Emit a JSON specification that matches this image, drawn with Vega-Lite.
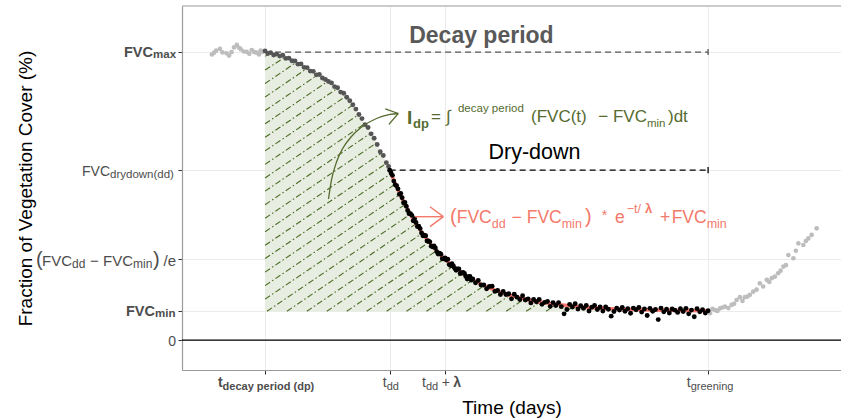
{
"$schema": "https://vega.github.io/schema/vega-lite/v6.json",
"width": 659, "height": 364,
"autosize": {"type": "none"},
"padding": {"left": 182, "top": 6, "right": 0, "bottom": 49},
"background": "white",
"config": {"font": "Liberation Sans", "view": {"stroke": null}},
"datasets": {
"curve": [{"t":30,"v":100},{"t":34,"v":99.2},{"t":38,"v":97.9},{"t":42,"v":96.0},{"t":46,"v":93.9},{"t":50,"v":91.5},{"t":54,"v":89.0},{"t":58,"v":85.8},{"t":62,"v":81.0},{"t":65,"v":76.6},{"t":68,"v":72.4},{"t":71,"v":66.9},{"t":73,"v":63.2},{"t":75,"v":59.0},{"t":77.5,"v":53.24},{"t":80,"v":48.16},{"t":82.5,"v":43.68},{"t":85,"v":39.72},{"t":87.5,"v":36.23},{"t":90,"v":33.15},{"t":92.5,"v":30.42},{"t":95,"v":28.03},{"t":100,"v":24.04},{"t":105,"v":20.93},{"t":110,"v":18.51},{"t":115,"v":16.63},{"t":120,"v":15.16},{"t":125,"v":14.02},{"t":130,"v":13.13},{"t":135,"v":12.44},{"t":140,"v":11.90},{"t":145,"v":11.48},{"t":150,"v":11.15},{"t":160,"v":10.70},{"t":170,"v":10.42},{"t":180,"v":10.26},{"t":190,"v":10.16}],
"fit": [{"t":75,"v":59.0},{"t":77.5,"v":53.24},{"t":80,"v":48.16},{"t":82.5,"v":43.68},{"t":85,"v":39.72},{"t":87.5,"v":36.23},{"t":90,"v":33.15},{"t":92.5,"v":30.42},{"t":95,"v":28.03},{"t":100,"v":24.04},{"t":105,"v":20.93},{"t":110,"v":18.51},{"t":115,"v":16.63},{"t":120,"v":15.16},{"t":125,"v":14.02},{"t":130,"v":13.13},{"t":135,"v":12.44},{"t":140,"v":11.90},{"t":145,"v":11.48},{"t":150,"v":11.15},{"t":160,"v":10.70},{"t":170,"v":10.42},{"t":180,"v":10.26},{"t":190,"v":10.16}],
"hatch": [
{"t":30,"v":98.5,"t2":31.76,"v2":99.64},{"t":30,"v":93.8,"t2":36.87,"v2":98.0},{"t":30,"v":89.1,"t2":41.2,"v2":96.4},{"t":30,"v":84.4,"t2":45.23,"v2":94.35},{"t":30,"v":79.7,"t2":49.04,"v2":92.1},{"t":30,"v":75.1,"t2":52.67,"v2":89.84},{"t":30,"v":70.4,"t2":56.07,"v2":87.35},{"t":30,"v":65.7,"t2":59.03,"v2":84.57},{"t":30,"v":61.0,"t2":61.57,"v2":81.52},{"t":30,"v":56.3,"t2":63.84,"v2":78.3},{"t":30,"v":51.7,"t2":66.05,"v2":75.13},{"t":30,"v":47.0,"t2":68.28,"v2":71.9},{"t":30,"v":42.3,"t2":70.17,"v2":68.41},{"t":30,"v":37.6,"t2":72.06,"v2":64.94},{"t":30,"v":32.9,"t2":73.85,"v2":61.4},{"t":30,"v":28.3,"t2":75.5,"v2":57.8},{"t":30,"v":23.6,"t2":77.1,"v2":54.2},{"t":30,"v":18.9,"t2":78.8,"v2":50.6},{"t":30,"v":14.2,"t2":80.6,"v2":47.1},
{"t":30.7,"v":10,"t2":82.5,"v2":43.7},{"t":37.9,"v":10,"t2":84.6,"v2":40.4},{"t":45.1,"v":10,"t2":86.8,"v2":37.1},{"t":52.3,"v":10,"t2":89.25,"v2":34.0},{"t":59.5,"v":10,"t2":91.9,"v2":31.0},{"t":66.7,"v":10,"t2":94.75,"v2":28.2},{"t":73.9,"v":10,"t2":97.9,"v2":25.6},{"t":81.1,"v":10,"t2":101.3,"v2":23.2},{"t":88.3,"v":10,"t2":105.05,"v2":20.9},{"t":95.5,"v":10,"t2":109.15,"v2":18.9},{"t":102.7,"v":10,"t2":113.65,"v2":17.1},{"t":109.9,"v":10,"t2":118.5,"v2":15.6},{"t":117.1,"v":10,"t2":123.7,"v2":14.3},{"t":124.3,"v":10,"t2":129.3,"v2":13.2},{"t":131.5,"v":10,"t2":135.2,"v2":12.4},{"t":138.7,"v":10,"t2":141.4,"v2":11.7}],
"frame": [{"t":0,"v":116,"t2":238,"v2":116}],
"zero": [{"t":0,"v":0,"t2":238,"v2":0}],
"grayDash": [{"t":30,"v":100,"t2":190,"v2":100}],
"grayBar": [{"t":190,"v":98.95,"t2":190,"v2":101.05}],
"blackDash": [{"t":75,"v":59,"t2":190,"v2":59}],
"blackBar": [{"t":190,"v":57.95,"t2":190,"v2":60.05}],
"gray": [{"t":10.8,"v":99.2},{"t":11.6,"v":99.8},{"t":12.3,"v":100.5},{"t":13.7,"v":101.1},{"t":14.6,"v":99.9},{"t":16.1,"v":99.6},{"t":17.0,"v":98.8},{"t":17.9,"v":100.0},{"t":18.8,"v":101.6},{"t":19.8,"v":102.5},{"t":20.6,"v":101.5},{"t":21.2,"v":101.0},{"t":22.3,"v":100.2},{"t":23.4,"v":100.1},{"t":24.3,"v":99.4},{"t":25.2,"v":100.7},{"t":26.1,"v":100.0},{"t":27.0,"v":99.8},{"t":27.8,"v":99.2},{"t":28.4,"v":100.5},{"t":29.2,"v":100.1},
{"t":190.7,"v":9.3},{"t":191.6,"v":10.8},{"t":192.5,"v":10.4},{"t":193.4,"v":10.1},{"t":194.3,"v":11.0},{"t":195.2,"v":11.3},{"t":196.1,"v":11.6},{"t":197.3,"v":11.1},{"t":198.5,"v":12.2},{"t":199.4,"v":12.6},{"t":200.3,"v":13.9},{"t":201.5,"v":14.9},{"t":202.4,"v":13.6},{"t":203.3,"v":14.9},{"t":204.2,"v":15.1},{"t":205.1,"v":15.7},{"t":206.3,"v":16.8},{"t":207.5,"v":17.5},{"t":208.7,"v":19.7},{"t":209.9,"v":18.6},{"t":211.2,"v":20.9},{"t":212.1,"v":20.2},{"t":213.0,"v":21.5},{"t":214.1,"v":22.0},{"t":215.3,"v":23.2},{"t":216.2,"v":24.1},{"t":217.2,"v":25.5},{"t":218.1,"v":26.0},{"t":219.0,"v":29.5},{"t":220.8,"v":28.4},{"t":221.7,"v":31.0},{"t":222.6,"v":33.6},{"t":224.4,"v":33.0},{"t":225.3,"v":34.4},{"t":226.2,"v":35.3},{"t":227.4,"v":36.5},{"t":229.2,"v":38.8}],
"decay": [{"t":30.0,"v":100.4},{"t":31.0,"v":99.5},{"t":32.0,"v":99.8},{"t":33.1,"v":99.0},{"t":34.2,"v":99.3},{"t":35.3,"v":98.6},{"t":36.4,"v":98.9},{"t":37.5,"v":97.8},{"t":38.6,"v":97.9},{"t":39.7,"v":97.0},{"t":40.8,"v":96.9},{"t":41.9,"v":95.8},{"t":43.0,"v":95.9},{"t":44.1,"v":94.7},{"t":45.2,"v":94.6},{"t":46.3,"v":93.4},{"t":47.4,"v":93.3},{"t":48.5,"v":92.1},{"t":49.6,"v":92.2},{"t":50.7,"v":91.0},{"t":51.8,"v":90.5},{"t":52.9,"v":89.8},{"t":54.0,"v":89.3},{"t":55.1,"v":88.0},{"t":56.2,"v":87.6},{"t":57.3,"v":86.1},{"t":58.4,"v":85.7},{"t":59.5,"v":84.3},{"t":60.6,"v":83.1},{"t":61.7,"v":81.7},{"t":62.8,"v":80.2},{"t":63.9,"v":78.3},{"t":65.0,"v":76.9},{"t":66.1,"v":74.8},{"t":67.2,"v":73.8},{"t":68.3,"v":71.6},{"t":69.4,"v":70.1},{"t":70.5,"v":67.9},{"t":71.6,"v":65.4},{"t":72.7,"v":64.1},{"t":73.8,"v":61.6},{"t":74.6,"v":60.3}],
"black": [{"t":75,"v":59.0},{"t":75.5,"v":58.0},{"t":76,"v":57.2},{"t":76.5,"v":55.2},{"t":77,"v":53.9},{"t":77.5,"v":53.6},{"t":78,"v":52.5},{"t":78.5,"v":50.6},{"t":79,"v":50.9},{"t":79.5,"v":49.4},{"t":80,"v":47.7},{"t":80.5,"v":47.8},{"t":81,"v":46.5},{"t":81.5,"v":45.0},{"t":82,"v":43.9},{"t":82.5,"v":43.9},{"t":83,"v":43.3},{"t":83.5,"v":41.4},{"t":84,"v":42.1},{"t":84.5,"v":40.8},{"t":85,"v":39.4},{"t":85.5,"v":39.5},{"t":86,"v":38.7},{"t":86.5,"v":37.2},{"t":87,"v":36.2},{"t":87.5,"v":36.4},{"t":88,"v":36.2},{"t":88.5,"v":34.4},{"t":89,"v":34.4},{"t":89.5,"v":34.1},{"t":90,"v":32.6},{"t":90.5,"v":32.4},{"t":91,"v":32.7},{"t":91.5,"v":32.0},{"t":92,"v":30.7},{"t":92.5,"v":29.9},{"t":93,"v":30.2},{"t":93.5,"v":29.8},{"t":94,"v":28.2},{"t":94.5,"v":28.2},{"t":95,"v":28.5},{"t":95.5,"v":27.8},{"t":96,"v":28.1},{"t":96.5,"v":26.2},{"t":97,"v":25.9},{"t":97.5,"v":26.5},{"t":98,"v":25.7},{"t":98.5,"v":24.9},{"t":99,"v":24.2},{"t":99.5,"v":24.7},{"t":100,"v":24.7},{"t":100.5,"v":23.1},{"t":101,"v":23.3},{"t":101.5,"v":23.5},{"t":102,"v":23.1},{"t":102.5,"v":22.1},{"t":103,"v":21.2},{"t":103.5,"v":22.0},{"t":104,"v":22.1},{"t":104.5,"v":20.8},{"t":105,"v":21.2},{"t":106,"v":19.9},{"t":107,"v":20.7},{"t":108,"v":19.1},{"t":109,"v":19.1},{"t":110,"v":17.8},{"t":111,"v":18.6},{"t":112,"v":18.7},{"t":113,"v":16.9},{"t":114,"v":17.2},{"t":115,"v":15.8},{"t":116,"v":16.9},{"t":117,"v":15.8},{"t":118,"v":16.1},{"t":119,"v":14.3},{"t":120,"v":15.9},{"t":121,"v":14.9},{"t":122,"v":14.1},{"t":123,"v":15.4},{"t":124,"v":13.9},{"t":125,"v":14.3},{"t":126,"v":12.9},{"t":127,"v":14.1},{"t":128,"v":13.3},{"t":129,"v":14.1},{"t":130,"v":12.4},{"t":131,"v":13.1},{"t":132,"v":13.4},{"t":133,"v":11.7},{"t":134,"v":13.0},{"t":135,"v":12.0},{"t":136,"v":13.0},{"t":137,"v":11.6},{"t":138,"v":9.1},{"t":139,"v":10.6},{"t":140,"v":12.4},{"t":141,"v":11.5},{"t":142,"v":12.6},{"t":143,"v":10.8},{"t":144,"v":11.9},{"t":145,"v":11.0},{"t":146,"v":12.0},{"t":147,"v":10.1},{"t":148,"v":11.4},{"t":149,"v":12.0},{"t":150,"v":10.6},{"t":151,"v":11.5},{"t":152,"v":10.1},{"t":153,"v":11.5},{"t":154,"v":10.7},{"t":155,"v":8.3},{"t":156,"v":9.9},{"t":157,"v":11.1},{"t":158,"v":10.4},{"t":159,"v":11.3},{"t":160,"v":10.0},{"t":161,"v":10.9},{"t":162,"v":9.3},{"t":163,"v":11.1},{"t":164,"v":10.5},{"t":165,"v":11.3},{"t":166,"v":9.7},{"t":167,"v":10.8},{"t":168,"v":8.5},{"t":169,"v":11.0},{"t":170,"v":10.0},{"t":171,"v":10.6},{"t":172,"v":7.1},{"t":173,"v":11.1},{"t":174,"v":9.8},{"t":175,"v":10.7},{"t":176,"v":9.4},{"t":177,"v":10.8},{"t":178,"v":10.4},{"t":179,"v":9.6},{"t":180,"v":10.9},{"t":181,"v":9.9},{"t":182,"v":11.0},{"t":183,"v":9.1},{"t":184,"v":10.4},{"t":185,"v":8.1},{"t":186,"v":10.9},{"t":187,"v":9.8},{"t":188,"v":10.5},{"t":189,"v":9.4},{"t":190,"v":10.2}],
"garrow": [{"t":52.91,"v":48.99},{"t":53.99,"v":55.58},{"t":55.80,"v":61.83},{"t":58.14,"v":66.69},{"t":61.03,"v":70.51},{"t":64.64,"v":73.81},{"t":70.24,"v":76.94},{"t":75.12,"v":78.33},{"t":78.11,"v":78.67}],
"gheads": [{"t":73.42,"v":80.31,"t2":78.11,"v2":78.67},{"t":74.72,"v":74.89,"t2":78.11,"v2":78.67}],
"rarrow": [{"t":84.15,"v":42.84,"t2":94.37,"v2":42.84},{"t":89.56,"v":46.31,"t2":94.37,"v2":42.84},{"t":89.56,"v":39.37,"t2":94.37,"v2":42.84}],
"ylabBoldMain": [{"s":"FVC","t":-10.47,"v":100},{"s":"FVC","t":-9.75,"v":10}],
"ylabBoldSub": [{"s":"max","t":-10.47,"v":100},{"s":"min","t":-9.75,"v":10}],
"ylabRegMain": [{"s":"FVC","t":-26.0,"v":59},{"s":"0","t":-2.17,"v":0}],
"ylabRegSub": [{"s":"drydown(dd)","t":-26.0,"v":59}],
"ylabEMain": [{"s":"FVC","t":-39.72,"v":28.03},{"s":"− FVC","t":-17.70,"v":28.03},{"s":"/e","t":-2.17,"v":28.03}],
"ylabESub": [{"s":"dd","t":-39.72,"v":28.03},{"s":"min","t":-17.70,"v":28.03}],
"ylabEParen": [{"s":"(","t":-52.73,"v":28.03},{"s":")","t":-10.47,"v":28.03}],
"xlabBoldMain": [{"s":"t","t":14.66,"v":-10.4}],
"xlabBoldSub": [{"s":"decay period (dp)","t":14.66,"v":-10.4}],
"xlabRegMain": [{"s":"t","t":73.93,"v":-10.4},{"s":"t","t":88.12,"v":-10.4},{"s":"t","t":183.71,"v":-10.4}],
"xlabRegSub": [{"s":"dd","t":73.93,"v":-10.4},{"s":"dd","t":88.12,"v":-10.4},{"s":"greening","t":183.71,"v":-10.4}],
"xlabPlus": [{"s":"+","t":93.79,"v":-10.4}],
"xlabLambda": [{"s":"λ","t":97.98,"v":-10.4}],
"gBig": [{"s":"I","t":81.26,"v":75.03}],
"gBigSub": [{"s":"dp","t":83.42,"v":73.64}],
"gMainL": [{"s":"=","t":89.92,"v":75.72},{"s":"∫","t":95.34,"v":75.72},{"s":"(FVC(t)","t":126.04,"v":75.72},{"s":")dt","t":175.51,"v":75.72}],
"gMainR": [{"s":"− FVC","t":167.93,"v":75.72}],
"gSmall": [{"s":"decay period","t":99.67,"v":79.19},{"s":"min","t":167.93,"v":73.99}],
"rParen": [{"s":"(","t":96.79,"v":40.55},{"s":")","t":145.54,"v":40.55}],
"rMainL": [{"s":"FVC","t":99.21,"v":40.55},{"s":"e","t":156.37,"v":40.55},{"s":"+","t":172.63,"v":40.55},{"s":"FVC","t":176.85,"v":40.55}],
"rMainR": [{"s":"− FVC","t":137.13,"v":40.55}],
"rStar": [{"s":"*","t":151.57,"v":41.69}],
"rSmall": [{"s":"dd","t":111.84,"v":38.92},{"s":"min","t":137.13,"v":38.92},{"s":"min","t":189.49,"v":38.92},{"s":"−t/","t":160.60,"v":44.13}],
"rLambda": [{"s":"λ","t":167.21,"v":44.13}],
"decayTitle": [{"s":"Decay period","t":108.13,"v":103.26}],
"ddTitle": [{"s":"Dry-down","t":127.3,"v":62.88}]
},
"encoding": {
"x": {"field":"t","type":"quantitative","scale":{"domain":[0,238],"nice":false,"zero":false},
 "axis":{"values":[30,75,95,190],"labels":false,"ticks":true,"tickSize":4,"tickColor":"#333333","tickWidth":1,"grid":true,"gridColor":"#ebebeb","gridWidth":1,"domain":true,"domainColor":"#9a9a9a","domainWidth":1.2,"title":"Time (days)","titleFontSize":19,"titleFontWeight":"normal","titleColor":"#000000","titleY":43,"titleBaseline":"alphabetic"}},
"y": {"field":"v","type":"quantitative","scale":{"domain":[-10.4,116],"nice":false,"zero":false},
 "axis":{"values":[0,10,28.03,59,100],"labels":false,"ticks":true,"tickSize":4,"tickColor":"#333333","tickWidth":1,"grid":true,"gridColor":"#ebebeb","gridWidth":1,"domain":true,"domainColor":"#9a9a9a","domainWidth":1.2,"title":"Fraction of Vegetation Cover (%)","titleFontSize":19,"titleFontWeight":"normal","titleColor":"#000000","titleX":-151,"titleY":182,"titleAngle":270,"titleAlign":"center","titleBaseline":"alphabetic"}}
},
"layer": [
{"data":{"name":"curve"},"mark":{"type":"area","color":"#e7ede0","interpolate":"monotone"},"encoding":{"y2":{"datum":10}}},
{"data":{"name":"hatch"},"mark":{"type":"rule","color":"#4b6b24","strokeWidth":1.1,"strokeDash":[6,2.5,1.5,2.5]},"encoding":{"x2":{"field":"t2"},"y2":{"field":"v2"}}},
{"data":{"name":"frame"},"mark":{"type":"rule","color":"#9a9a9a","strokeWidth":1.2},"encoding":{"x2":{"field":"t2"},"y2":{"field":"v2"}}},
{"data":{"name":"zero"},"mark":{"type":"rule","color":"#000000","strokeWidth":1.2},"encoding":{"x2":{"field":"t2"},"y2":{"field":"v2"}}},
{"data":{"name":"grayDash"},"mark":{"type":"rule","color":"#555555","strokeWidth":1.3,"strokeDash":[6,4]},"encoding":{"x2":{"field":"t2"},"y2":{"field":"v2"}}},
{"data":{"name":"grayBar"},"mark":{"type":"rule","color":"#555555","strokeWidth":1.3},"encoding":{"x2":{"field":"t2"},"y2":{"field":"v2"}}},
{"data":{"name":"blackDash"},"mark":{"type":"rule","color":"#000000","strokeWidth":1.3,"strokeDash":[6,4]},"encoding":{"x2":{"field":"t2"},"y2":{"field":"v2"}}},
{"data":{"name":"blackBar"},"mark":{"type":"rule","color":"#000000","strokeWidth":1.3},"encoding":{"x2":{"field":"t2"},"y2":{"field":"v2"}}},
{"data":{"name":"gray"},"mark":{"type":"circle","color":"#bdbdbd","size":22,"opacity":1},"encoding":{}},
{"data":{"name":"decay"},"mark":{"type":"circle","color":"#555555","size":24,"opacity":1},"encoding":{}},
{"data":{"name":"fit"},"mark":{"type":"line","color":"#f8766d","strokeWidth":3.5,"interpolate":"monotone"},"encoding":{}},
{"data":{"name":"black"},"mark":{"type":"circle","color":"#000000","size":24,"opacity":1},"encoding":{}},
{"data":{"name":"garrow"},"mark":{"type":"line","color":"#556b2f","strokeWidth":1.3,"interpolate":"monotone"},"encoding":{}},
{"data":{"name":"gheads"},"mark":{"type":"rule","color":"#556b2f","strokeWidth":1.3},"encoding":{"x2":{"field":"t2"},"y2":{"field":"v2"}}},
{"data":{"name":"rarrow"},"mark":{"type":"rule","color":"#f4796b","strokeWidth":1.4},"encoding":{"x2":{"field":"t2"},"y2":{"field":"v2"}}},
{"data":{"name":"ylabBoldMain"},"mark":{"type":"text","align":"right","baseline":"alphabetic","dy":4.5,"fontSize":14.5,"fontWeight":"bold","color":"#4d4d4d"},"encoding":{"text":{"field":"s"}}},
{"data":{"name":"ylabBoldSub"},"mark":{"type":"text","align":"left","baseline":"alphabetic","dy":6,"fontSize":11.5,"fontWeight":"bold","color":"#4d4d4d"},"encoding":{"text":{"field":"s"}}},
{"data":{"name":"ylabRegMain"},"mark":{"type":"text","align":"right","baseline":"alphabetic","dy":5.5,"fontSize":14,"color":"#4d4d4d"},"encoding":{"text":{"field":"s"}}},
{"data":{"name":"ylabRegSub"},"mark":{"type":"text","align":"left","baseline":"alphabetic","dy":7.5,"fontSize":11.5,"color":"#4d4d4d"},"encoding":{"text":{"field":"s"}}},
{"data":{"name":"ylabEMain"},"mark":{"type":"text","align":"right","baseline":"alphabetic","dy":6.5,"fontSize":15,"color":"#4d4d4d"},"encoding":{"text":{"field":"s"}}},
{"data":{"name":"ylabESub"},"mark":{"type":"text","align":"left","baseline":"alphabetic","dy":9,"fontSize":12,"color":"#4d4d4d"},"encoding":{"text":{"field":"s"}}},
{"data":{"name":"ylabEParen"},"mark":{"type":"text","align":"left","baseline":"alphabetic","dy":7,"fontSize":20,"color":"#4d4d4d"},"encoding":{"text":{"field":"s"}}},
{"data":{"name":"xlabBoldMain"},"mark":{"type":"text","align":"right","baseline":"alphabetic","dy":17,"fontSize":14,"fontWeight":"bold","color":"#4d4d4d"},"encoding":{"text":{"field":"s"}}},
{"data":{"name":"xlabBoldSub"},"mark":{"type":"text","align":"left","baseline":"alphabetic","dy":19.5,"fontSize":11,"fontWeight":"bold","color":"#4d4d4d"},"encoding":{"text":{"field":"s"}}},
{"data":{"name":"xlabRegMain"},"mark":{"type":"text","align":"right","baseline":"alphabetic","dy":17,"fontSize":14,"color":"#4d4d4d"},"encoding":{"text":{"field":"s"}}},
{"data":{"name":"xlabRegSub"},"mark":{"type":"text","align":"left","baseline":"alphabetic","dy":19.5,"fontSize":11,"color":"#4d4d4d"},"encoding":{"text":{"field":"s"}}},
{"data":{"name":"xlabPlus"},"mark":{"type":"text","align":"left","baseline":"alphabetic","dy":17,"fontSize":14,"color":"#4d4d4d"},"encoding":{"text":{"field":"s"}}},
{"data":{"name":"xlabLambda"},"mark":{"type":"text","align":"left","baseline":"alphabetic","dy":17,"fontSize":14,"fontWeight":"bold","color":"#4d4d4d"},"encoding":{"text":{"field":"s"}}},
{"data":{"name":"gBig"},"mark":{"type":"text","align":"left","baseline":"alphabetic","fontSize":19,"fontWeight":"bold","color":"#556b2f"},"encoding":{"text":{"field":"s"}}},
{"data":{"name":"gBigSub"},"mark":{"type":"text","align":"left","baseline":"alphabetic","fontSize":13,"fontWeight":"bold","color":"#556b2f"},"encoding":{"text":{"field":"s"}}},
{"data":{"name":"gMainL"},"mark":{"type":"text","align":"left","baseline":"alphabetic","fontSize":17,"color":"#556b2f"},"encoding":{"text":{"field":"s"}}},
{"data":{"name":"gMainR"},"mark":{"type":"text","align":"right","baseline":"alphabetic","fontSize":17,"color":"#556b2f"},"encoding":{"text":{"field":"s"}}},
{"data":{"name":"gSmall"},"mark":{"type":"text","align":"left","baseline":"alphabetic","fontSize":11.5,"color":"#556b2f"},"encoding":{"text":{"field":"s"}}},
{"data":{"name":"rParen"},"mark":{"type":"text","align":"left","baseline":"alphabetic","fontSize":20,"color":"#f4796b"},"encoding":{"text":{"field":"s"}}},
{"data":{"name":"rMainL"},"mark":{"type":"text","align":"left","baseline":"alphabetic","fontSize":17.5,"color":"#f4796b"},"encoding":{"text":{"field":"s"}}},
{"data":{"name":"rMainR"},"mark":{"type":"text","align":"right","baseline":"alphabetic","fontSize":17.5,"color":"#f4796b"},"encoding":{"text":{"field":"s"}}},
{"data":{"name":"rStar"},"mark":{"type":"text","align":"left","baseline":"alphabetic","fontSize":14,"color":"#f4796b"},"encoding":{"text":{"field":"s"}}},
{"data":{"name":"rSmall"},"mark":{"type":"text","align":"left","baseline":"alphabetic","fontSize":12.5,"color":"#f4796b"},"encoding":{"text":{"field":"s"}}},
{"data":{"name":"rLambda"},"mark":{"type":"text","align":"left","baseline":"alphabetic","fontSize":13,"fontWeight":"bold","color":"#f4796b"},"encoding":{"text":{"field":"s"}}},
{"data":{"name":"decayTitle"},"mark":{"type":"text","align":"center","baseline":"alphabetic","fontSize":23,"fontWeight":"bold","color":"#595959"},"encoding":{"text":{"field":"s"}}},
{"data":{"name":"ddTitle"},"mark":{"type":"text","align":"center","baseline":"alphabetic","fontSize":21.5,"color":"#000000"},"encoding":{"text":{"field":"s"}}}
]
}
